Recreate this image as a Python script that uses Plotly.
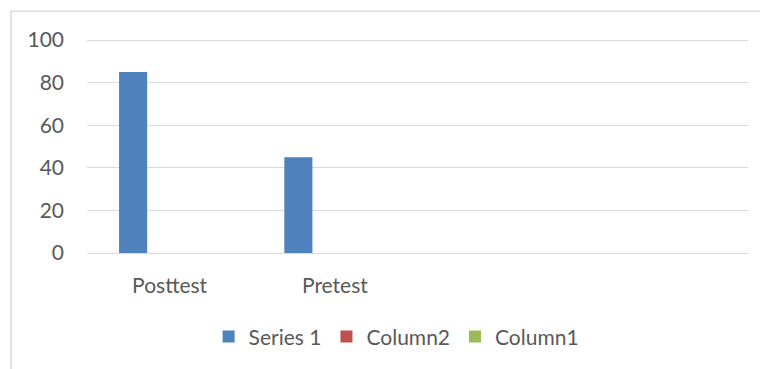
import plotly.graph_objects as go

categories = ["Posttest", "Pretest", " ", "  "]
series1 = [85, 45, None, None]
column2 = [None, None, None, None]
column1 = [None, None, None, None]

series_names = ["Series 1", "Column2", "Column1"]
series_colors = ["#4F81BD", "#C0504D", "#9BBB59"]
series_values = [series1, column2, column1]

fig = go.Figure()
bw = 0.17
for i, (name, vals, col) in enumerate(zip(series_names, series_values, series_colors)):
    fig.add_trace(go.Bar(
        x=categories, y=vals, name=name,
        marker=dict(color=col, line=dict(width=0)),
        width=bw, offset=-0.306 + i * bw,
    ))

font_fam = "Lato, 'Open Sans', sans-serif"
fs = 21
ph = 213 * 1.01
top = 253 - ph
fig.update_layout(
    width=760, height=369,
    margin=dict(l=87, r=12, t=top, b=116),
    paper_bgcolor="white", plot_bgcolor="white",
    barmode="group",
    showlegend=True,
    font=dict(family=font_fam, size=fs, color="#595959"),
    legend=dict(orientation="h", x=0.184, xanchor="left", y=(253 - 337) / ph, yanchor="middle",
                font=dict(size=fs, color="#595959"), itemwidth=30, traceorder="normal"),
    xaxis=dict(showgrid=False, showline=False, ticks="", tickfont=dict(size=fs, color="#595959"),
               range=[-0.5, 3.5], ticklabelstandoff=18),
    yaxis=dict(range=[0, 101], dtick=20, showgrid=True, gridcolor="#D9D9D9", gridwidth=1,
               zeroline=True, zerolinecolor="#D9D9D9", zerolinewidth=1,
               showline=False, ticks="", ticklen=0, tickfont=dict(size=fs, color="#595959"),
               ticklabelstandoff=22),
    shapes=[dict(type="rect", xref="paper", yref="paper",
                 x0=(11 - 87) / 661, x1=(765 - 87) / 661,
                 y0=(253 - 380) / ph, y1=(253 - 11) / ph,
                 line=dict(color="#D9D9D9", width=1.5), fillcolor="rgba(0,0,0,0)", layer="below")],
)
fig.write_html("out.html", config={"displayModeBar": False},
               post_script="document.body.style.margin='0';document.body.style.overflow='hidden';")
